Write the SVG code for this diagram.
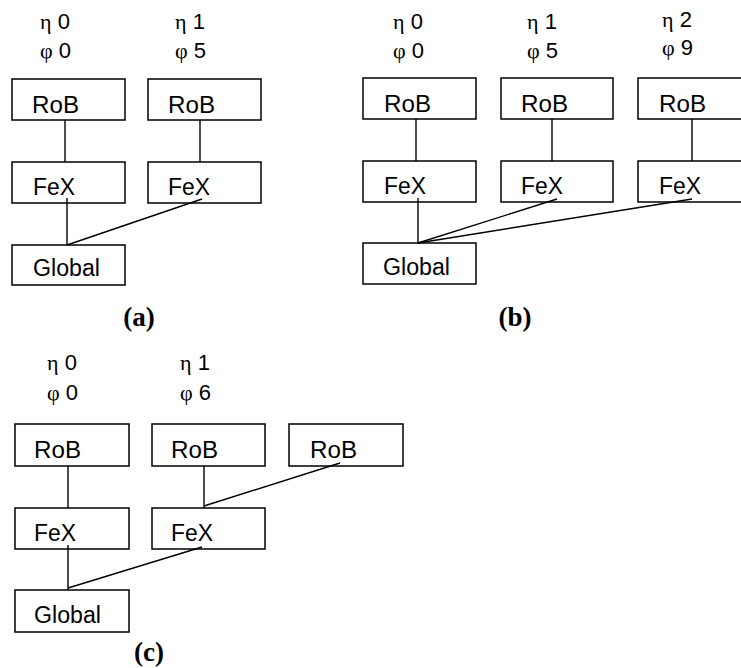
<svg xmlns="http://www.w3.org/2000/svg" width="741" height="668" viewBox="0 0 741 668">
<style>
.box{fill:#fff;stroke:#000;stroke-width:1.5}
.t{font-family:"Liberation Sans",Arial,sans-serif;font-size:23px;fill:#000}
.h{font-family:"Liberation Sans",Arial,sans-serif;font-size:22px;fill:#000}
.g{font-family:"Liberation Serif","Times New Roman",serif}
.cap{font-family:"Liberation Serif","Times New Roman",serif;font-size:27px;font-weight:bold;fill:#000;text-anchor:middle}
.ln{stroke:#000;stroke-width:1.4;fill:none}
</style>
<rect width="741" height="668" fill="#fff"/>

<!-- Panel (a) -->
<g id="a-labels">
<text class="h" x="40" y="29"><tspan class="g">η</tspan> 0</text><text class="h" x="40" y="58"><tspan class="g">φ</tspan> 0</text>
<text class="h" x="175" y="29"><tspan class="g">η</tspan> 1</text><text class="h" x="175" y="58"><tspan class="g">φ</tspan> 5</text>
</g>
<g id="a-rob0"><rect class="box" x="12" y="79" width="113" height="41"/><text class="t" x="32" y="113" textLength="47" lengthAdjust="spacingAndGlyphs">RoB</text></g>
<g id="a-rob1"><rect class="box" x="148" y="79" width="113" height="41"/><text class="t" x="168" y="113" textLength="47" lengthAdjust="spacingAndGlyphs">RoB</text></g>
<g id="a-fex0"><rect class="box" x="12" y="162" width="113" height="41"/><text class="t" x="33" y="195" textLength="42" lengthAdjust="spacingAndGlyphs">FeX</text></g>
<g id="a-fex1"><rect class="box" x="148" y="162" width="113" height="41"/><text class="t" x="168" y="195" textLength="42" lengthAdjust="spacingAndGlyphs">FeX</text></g>
<g id="a-global"><rect class="box" x="12" y="245" width="113" height="40"/><text class="t" x="33" y="276" textLength="67" lengthAdjust="spacingAndGlyphs">Global</text></g>
<text id="a-caption" class="cap" x="139" y="326">(a)</text>

<!-- Panel (b) -->
<g id="b-labels">
<text class="h" x="393" y="29"><tspan class="g">η</tspan> 0</text><text class="h" x="393" y="58"><tspan class="g">φ</tspan> 0</text>
<text class="h" x="527" y="29"><tspan class="g">η</tspan> 1</text><text class="h" x="527" y="58"><tspan class="g">φ</tspan> 5</text>
<text class="h" x="662" y="27"><tspan class="g">η</tspan> 2</text><text class="h" x="662" y="55"><tspan class="g">φ</tspan> 9</text>
</g>
<g id="b-rob0"><rect class="box" x="363" y="78" width="113" height="41"/><text class="t" x="384" y="112" textLength="47" lengthAdjust="spacingAndGlyphs">RoB</text></g>
<g id="b-rob1"><rect class="box" x="501" y="78" width="112" height="41"/><text class="t" x="521" y="112" textLength="47" lengthAdjust="spacingAndGlyphs">RoB</text></g>
<g id="b-rob2"><rect class="box" x="638" y="78" width="113" height="41"/><text class="t" x="659" y="112" textLength="47" lengthAdjust="spacingAndGlyphs">RoB</text></g>
<g id="b-fex0"><rect class="box" x="363" y="161" width="113" height="41"/><text class="t" x="384" y="194" textLength="42" lengthAdjust="spacingAndGlyphs">FeX</text></g>
<g id="b-fex1"><rect class="box" x="501" y="161" width="112" height="41"/><text class="t" x="521" y="194" textLength="42" lengthAdjust="spacingAndGlyphs">FeX</text></g>
<g id="b-fex2"><rect class="box" x="638" y="161" width="113" height="41"/><text class="t" x="659" y="194" textLength="42" lengthAdjust="spacingAndGlyphs">FeX</text></g>
<g id="b-global"><rect class="box" x="363" y="243" width="113" height="41"/><text class="t" x="383" y="275" textLength="67" lengthAdjust="spacingAndGlyphs">Global</text></g>
<text id="b-caption" class="cap" x="515" y="326">(b)</text>

<!-- Panel (c) -->
<g id="c-labels">
<text class="h" x="47" y="370"><tspan class="g">η</tspan> 0</text><text class="h" x="47" y="400"><tspan class="g">φ</tspan> 0</text>
<text class="h" x="180" y="370"><tspan class="g">η</tspan> 1</text><text class="h" x="180" y="400"><tspan class="g">φ</tspan> 6</text>
</g>
<g id="c-rob0"><rect class="box" x="15" y="424" width="114" height="42"/><text class="t" x="34" y="458" textLength="47" lengthAdjust="spacingAndGlyphs">RoB</text></g>
<g id="c-rob1"><rect class="box" x="152" y="424" width="113" height="42"/><text class="t" x="171" y="458" textLength="47" lengthAdjust="spacingAndGlyphs">RoB</text></g>
<g id="c-rob2"><rect class="box" x="289" y="424" width="114" height="42"/><text class="t" x="310" y="458" textLength="47" lengthAdjust="spacingAndGlyphs">RoB</text></g>
<g id="c-fex0"><rect class="box" x="15" y="508" width="114" height="41"/><text class="t" x="34" y="541" textLength="42" lengthAdjust="spacingAndGlyphs">FeX</text></g>
<g id="c-fex1"><rect class="box" x="152" y="508" width="113" height="41"/><text class="t" x="171" y="541" textLength="42" lengthAdjust="spacingAndGlyphs">FeX</text></g>
<g id="c-global"><rect class="box" x="15" y="590" width="114" height="42"/><text class="t" x="34" y="623" textLength="67" lengthAdjust="spacingAndGlyphs">Global</text></g>
<text id="c-caption" class="cap" x="149" y="661">(c)</text>

<g id="connectors" class="ln">
<!-- (a) -->
<line x1="65" y1="120" x2="65" y2="162"/>
<line x1="200" y1="120" x2="200" y2="162"/>
<line x1="67" y1="198" x2="67" y2="245"/>
<line x1="202" y1="199" x2="67" y2="245"/>
<!-- (b) -->
<line x1="416" y1="119" x2="416" y2="161"/>
<line x1="552" y1="119" x2="552" y2="161"/>
<line x1="692" y1="119" x2="692" y2="161"/>
<line x1="418" y1="198" x2="418" y2="243"/>
<line x1="557" y1="199" x2="418" y2="243"/>
<line x1="692" y1="199" x2="418" y2="243"/>
<!-- (c) -->
<line x1="68" y1="466" x2="68" y2="508"/>
<line x1="204" y1="466" x2="204" y2="508"/>
<line x1="340" y1="463" x2="204" y2="506"/>
<line x1="68" y1="545" x2="68" y2="590"/>
<line x1="202" y1="547" x2="68" y2="588"/>
</g>
</svg>
